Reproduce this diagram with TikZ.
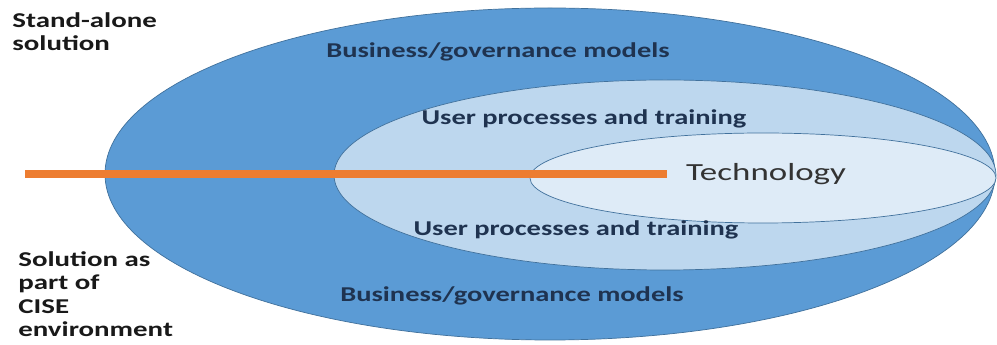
\documentclass[tikz,border=0pt]{standalone}
\usepackage{fontspec}
\usepackage{graphicx}
\setmainfont{Carlito}
\definecolor{outerblue}{HTML}{5B9BD5}
\definecolor{midblue}{HTML}{BDD7EE}
\definecolor{innerblue}{HTML}{DEEBF7}
\definecolor{edgeblue}{HTML}{41719C}
\definecolor{lineorange}{HTML}{ED7D31}
\definecolor{labelnavy}{HTML}{1F3350}
\newcommand{\widetext}[2][1.35]{\scalebox{#1}[1]{#2}}
\tikzset{
  layer/.style={draw=edgeblue, line width=0.4pt},
  sidelabel/.style={font=\fontsize{12}{13.4}\selectfont\bfseries, align=left, anchor=north west, inner sep=0pt, text=black!90},
  ringlabel/.style={font=\fontsize{12}{14}\selectfont\bfseries, text=labelnavy, inner sep=0pt}
}
\begin{document}
\begin{tikzpicture}
    \useasboundingbox (0,0) rectangle (19.94,6.9);
    % nested ellipses
    \filldraw[layer, fill=outerblue] (11.0,3.42) ellipse (8.9 and 3.32);
    \filldraw[layer, fill=midblue] (13.3,3.40) ellipse (6.62 and 1.9);
    \filldraw[layer, fill=innerblue] (15.26,3.34) ellipse (4.66 and 0.9);

    \coordinate (linestart) at (0.5,3.42);
    \coordinate (lineend) at (13.34,3.42);
    \draw[lineorange, line width=5pt] (linestart) -- (lineend);

    \node[sidelabel] (standalone) at (0.24,6.66) {\widetext[1.37]{Stand-alone}\\\widetext[1.37]{solution}};
    \node[sidelabel] (cise) at (0.36,1.88) {\widetext[1.37]{Solution as}\\\widetext[1.37]{part of}\\\widetext[1.37]{CISE}\\\widetext[1.37]{environment}};

    \node[ringlabel] (busTop) at (9.96,5.86) {\widetext{Business/governance models}};
    \node[ringlabel] (busBot) at (10.24,0.98) {\widetext{Business/governance models}};
    \node[ringlabel] (userTop) at (11.68,4.52) {\widetext{User processes and training}};
    \node[ringlabel] (userBot) at (11.52,2.3) {\widetext{User processes and training}};
    \node[font=\fontsize{14}{16}\selectfont, text=black!80, inner sep=0pt] (tech) at (15.32,3.42) {\widetext[1.42]{Technology}};
\end{tikzpicture}
\end{document}
